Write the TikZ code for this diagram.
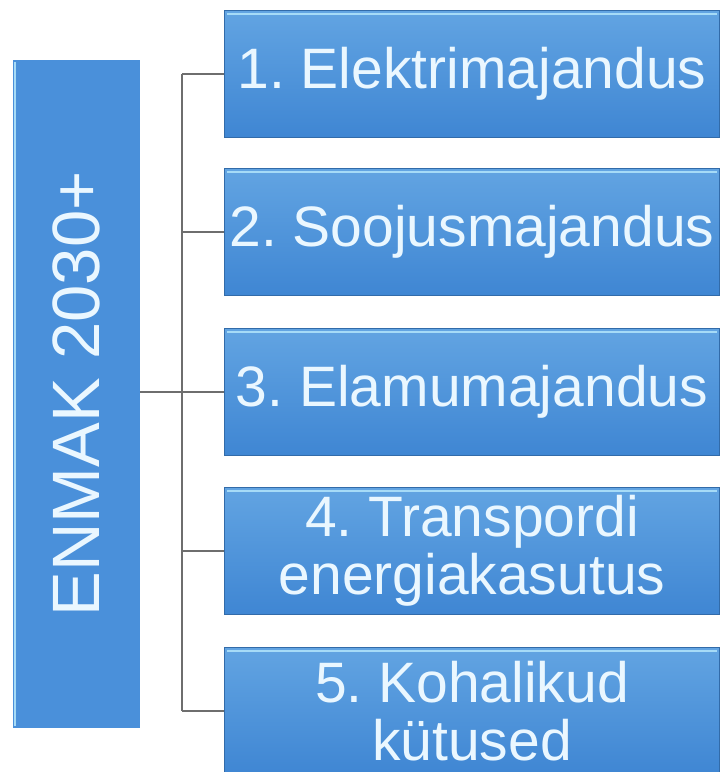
\documentclass[tikz,border=0pt]{standalone}
\usepackage{fontspec}
\setmainfont{Liberation Sans}
\frenchspacing
\definecolor{boxblue}{HTML}{4A90DA}
\definecolor{boxtop}{HTML}{62A4E2}
\definecolor{boxbot}{HTML}{3F86D3}
\definecolor{rimblue}{HTML}{A6DBF7}
\definecolor{labelwhite}{HTML}{EAF7FF}
\definecolor{linegray}{HTML}{6E6E6E}
\begin{document}
\begin{tikzpicture}[x=1pt,y=-1pt,
        topic/.style={rectangle, minimum width=495pt, minimum height=127pt,
            top color=boxtop, bottom color=boxbot, draw=boxbot!80!black,
            line width=0.8pt, text=labelwhite, align=center, inner sep=0pt,
            font=\fontsize{57}{58}\selectfont},
        branch/.style={draw=linegray, line width=1.6pt}]
                \useasboundingbox (0,0) rectangle (723,772);
                \fill [white] (0,0) rectangle (723,772);
                % main box, text turned upright
                \node [rectangle, minimum width=668pt, minimum height=127pt, fill=boxblue,
                    inner sep=0pt, text=labelwhite, rotate=90,
                    font=\fontsize{67}{67}\selectfont] (enmak) at (76.5,394) {ENMAK 2030+};
                \draw [rimblue, line width=2pt] (15,62) -- (15,726);
                % the five topics
                \node [topic] (t1) at (472,74) {1. Elektrimajandus};
                \node [topic] (t2) at (472,232) {2. Soojusmajandus};
                \node [topic] (t3) at (472,392) {3. Elamumajandus};
                \node [topic] (t4) at (472,551) {4. Transpordi\\energiakasutus};
                \node [topic] (t5) at (472,711) {5. Kohalikud\\kütused};
                \foreach \t in {t1,t2,t3,t4,t5}
                    \draw [rimblue, line width=2.5pt] ([xshift=3pt,yshift=-4pt]\t.north west) -- ([xshift=-3pt,yshift=-4pt]\t.north east);
                % connectors
                \coordinate (trunk) at (182,392);
                \draw [branch] (trunk -| enmak.south) -- (trunk);
                \foreach \t in {t1,t2,t3,t4,t5}
                    \draw [branch] (trunk |- \t.west) -- (\t.west);
                \draw [branch] (trunk |- t1.west) -- (trunk |- t5.west);
            \end{tikzpicture}
\end{document}
